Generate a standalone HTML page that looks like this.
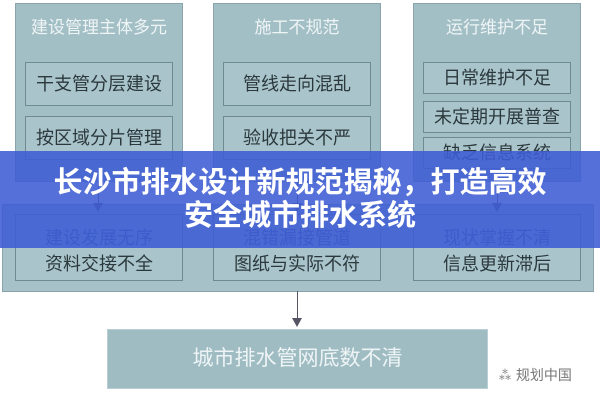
<!DOCTYPE html>
<html><head><meta charset="utf-8"><style>
body{margin:0;width:600px;height:400px;background:#fff;position:relative;overflow:hidden;font-family:"Liberation Sans","Noto Sans CJK SC",sans-serif}
.a{position:absolute;box-sizing:border-box}
.col{background:#a3bfc6;border:1px solid #8aa4ab}
.box{background:#a9c4cb;border:1px solid #6f8a91;color:#2b393d;font-size:18px;text-align:center}
.hd{color:#eef4f5;font-size:17px;text-align:center;width:100%}
.ar{position:absolute;width:1px;background:#556}
.tri{position:absolute;width:0;height:0;border-left:5px solid transparent;border-right:5px solid transparent;border-top:9px solid #556}
</style></head><body>
<div class="a" style="left:2px;top:204px;width:592px;height:88px;background:#a6c1c8;border:1px solid #8aa4ab"></div>

<div class="a col" style="left:15px;top:3px;width:168px;height:179px"></div>
<div class="a col" style="left:213px;top:3px;width:168px;height:179px"></div>
<div class="a col" style="left:413px;top:3px;width:168px;height:179px"></div>
<div class="a hd" style="left:15px;top:13px;width:168px">建设管理主体多元</div>
<div class="a hd" style="left:213px;top:13px;width:168px">施工不规范</div>
<div class="a hd" style="left:413px;top:13px;width:168px">运行维护不足</div>

<div class="a box" style="left:25px;top:62px;width:148px;height:44px;line-height:42px">干支管分层建设</div>
<div class="a box" style="left:25px;top:116px;width:148px;height:44px;line-height:42px">按区域分片管理</div>
<div class="a box" style="left:223px;top:62px;width:148px;height:44px;line-height:42px">管线走向混乱</div>
<div class="a box" style="left:223px;top:116px;width:148px;height:44px;line-height:42px">验收把关不严</div>
<div class="a box" style="left:423px;top:62px;width:148px;height:32px;line-height:30px">日常维护不足</div>
<div class="a box" style="left:423px;top:101px;width:148px;height:32px;line-height:30px">未定期开展普查</div>
<div class="a box" style="left:423px;top:137px;width:148px;height:32px;line-height:30px">缺乏信息系统</div>

<div class="ar" style="left:98px;top:182px;height:24px"></div><div class="tri" style="left:93px;top:203px"></div>
<div class="ar" style="left:297px;top:182px;height:24px"></div><div class="tri" style="left:292px;top:203px"></div>
<div class="ar" style="left:497px;top:182px;height:24px"></div><div class="tri" style="left:492px;top:203px"></div>

<div class="a box" style="left:15px;top:214px;width:168px;height:67px;padding-top:10px;line-height:26px"><span style="color:#3a5a8a">建设发展无序</span><br>资料交接不全</div>
<div class="a box" style="left:213px;top:214px;width:168px;height:67px;padding-top:10px;line-height:26px"><span style="color:#3a5a8a">混错漏接管道</span><br>图纸与实际不符</div>
<div class="a box" style="left:413px;top:214px;width:168px;height:67px;padding-top:10px;line-height:26px"><span style="color:#3a5a8a">现状掌握不清</span><br>信息更新滞后</div>

<div class="ar" style="left:297px;top:291px;height:30px"></div><div class="tri" style="left:292px;top:318px"></div>
<div class="a" style="left:107px;top:329px;width:381px;height:60px;background:#9fbcc3;border:1px solid #b9cfd4;color:#eef4f5;font-size:21px;text-align:center;line-height:58px">城市排水管网底数不清</div>
<div class="a" style="left:498px;top:365px;color:#777;font-size:14px">⁂ 规划中国</div>

<div class="a" style="left:0;top:151px;width:600px;height:97px;background:rgba(62,92,212,0.88)"></div>
<div class="a" style="left:0;top:167px;width:600px;text-align:center;color:#fff;font-weight:bold;font-size:29px;line-height:33px">长沙市排水设计新规范揭秘，打造高效<br>安全城市排水系统</div>
</body></html>
